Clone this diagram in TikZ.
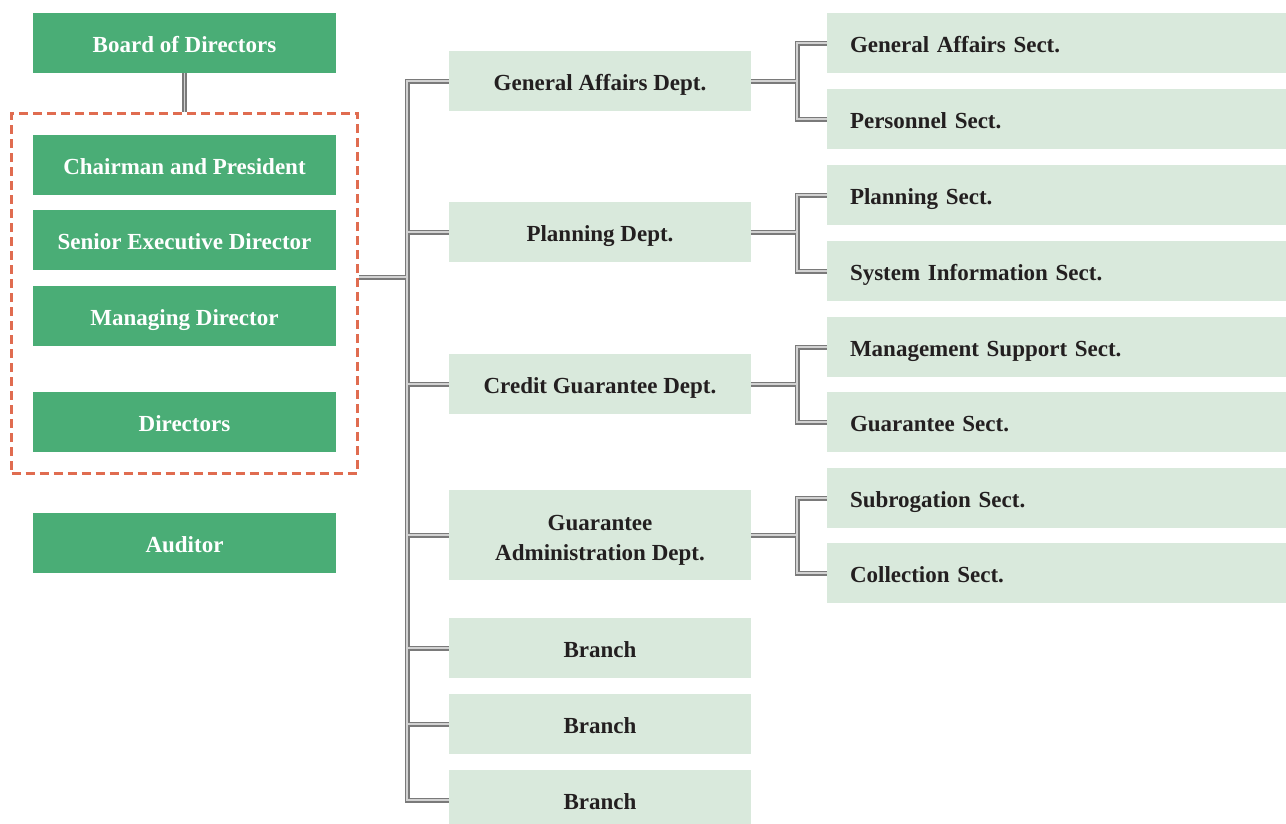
\documentclass[tikz,border=0pt]{standalone}
\usepackage{fontspec}
\setmainfont{Liberation Serif}
\definecolor{gfill}{HTML}{4AAD76}
\definecolor{lfill}{HTML}{D9E9DC}
\definecolor{dorange}{HTML}{E06C50}
\definecolor{txt}{HTML}{231F20}
\definecolor{couter}{HTML}{7A7A7A}
\definecolor{cinner}{HTML}{D2D2D2}
\tikzset{
  oneline/.style={text height=19pt, text depth=0pt},
  gbox/.style={oneline, fill=gfill, text=white, minimum width=303pt, minimum height=60pt, inner sep=0pt, font=\fontsize{23}{26}\selectfont\bfseries},
  mboxbase/.style={fill=lfill, text=txt, minimum width=302pt, minimum height=60pt, inner sep=0pt, align=center, font=\fontsize{23}{30}\selectfont\bfseries},
  mbox/.style={mboxbase, oneline},
  rbox/.style={oneline, fill=lfill, text=txt, minimum width=459pt, minimum height=60pt, text width=413pt, inner xsep=23pt, inner ysep=0pt, align=left, font=\fontsize{23}{26}\selectfont\bfseries},
  execbox/.style={draw=dorange, line width=3pt, dash pattern=on 9pt off 5pt, minimum width=346pt, minimum height=360pt, inner sep=0pt},
  outerline/.style={draw=couter, line width=5pt, line join=miter},
  innerline/.style={draw=cinner, line width=1.8pt, line join=miter},
}
\newcommand\orgconns{%
  \draw[cn] (board.south) -- (exec.north);
  \draw[cn] (exec.east |- jn) -- (jn);
  \draw[cn] (ga.west) -| (tx |- ga.west) -- (tx |- b3.west) -- (b3.west);
  \draw[cn] (tx |- pl.west) -- (pl.west);
  \draw[cn] (tx |- cg.west) -- (cg.west);
  \draw[cn] (tx |- gad.west) -- (gad.west);
  \draw[cn] (tx |- b1.west) -- (b1.west);
  \draw[cn] (tx |- b2.west) -- (b2.west);
  \draw[cn] (ga.east) -- (rx |- ga.east);
  \draw[cn] (s1.west) -| (rx |- ga.east) |- (s2.west);
  \draw[cn] (pl.east) -- (rx |- pl.east);
  \draw[cn] (s3.west) -| (rx |- pl.east) |- (s4.west);
  \draw[cn] (cg.east) -- (rx |- cg.east);
  \draw[cn] (s5.west) -| (rx |- cg.east) |- (s6.west);
  \draw[cn] (gad.east) -- (rx |- gad.east);
  \draw[cn] (s7.west) -| (rx |- gad.east) |- (s8.west);
}
\begin{document}
\begin{tikzpicture}[x=1pt,y=-1pt]
\useasboundingbox (0,0) rectangle (1286,823);
\clip (0,0) rectangle (1286,823);
% left column
\node[gbox] (board) at (184.5,43) {Board of Directors};
\node[gbox] (chair) at (184.5,164.5) {Chairman and President};
\node[gbox] (senior) at (184.5,240) {Senior Executive Director};
\node[gbox] (manag) at (184.5,316) {Managing Director};
\node[gbox] (dirs) at (184.5,422) {Directors};
\node[gbox] (aud) at (184.5,543) {Auditor};
\node[execbox] (exec) at (184.5,293) {};
% middle column
\node[mbox] (ga) at (600,81) {General Affairs Dept.};
\node[mbox] (pl) at (600,232) {Planning Dept.};
\node[mbox] (cg) at (600,384) {Credit Guarantee Dept.};
\node[mboxbase, minimum height=90pt] (gad) at (600,535) {\raisebox{-4pt}[\height][\depth]{\begin{tabular}{@{}c@{}}Guarantee\\Administration Dept.\end{tabular}}};
\node[mbox] (b1) at (600,648) {Branch};
\node[mbox] (b2) at (600,724) {Branch};
\node[mbox] (b3) at (600,800) {Branch};
% right column
\node[rbox] (s1) at (1056.5,43) {General Affairs Sect.};
\node[rbox] (s2) at (1056.5,119) {Personnel Sect.};
\node[rbox] (s3) at (1056.5,195) {Planning Sect.};
\node[rbox] (s4) at (1056.5,271) {System Information Sect.};
\node[rbox] (s5) at (1056.5,347) {Management Support Sect.};
\node[rbox] (s6) at (1056.5,422) {Guarantee Sect.};
\node[rbox] (s7) at (1056.5,498) {Subrogation Sect.};
\node[rbox] (s8) at (1056.5,573) {Collection Sect.};
% junction coordinates
\coordinate (tx) at (407,0);
\coordinate (rx) at (797,0);
\coordinate (jn) at (407,277);
% connectors: outer pass, then inner pass
\tikzset{cn/.style={outerline}}
\orgconns
\tikzset{cn/.style={innerline}}
\orgconns
\end{tikzpicture}
\end{document}
